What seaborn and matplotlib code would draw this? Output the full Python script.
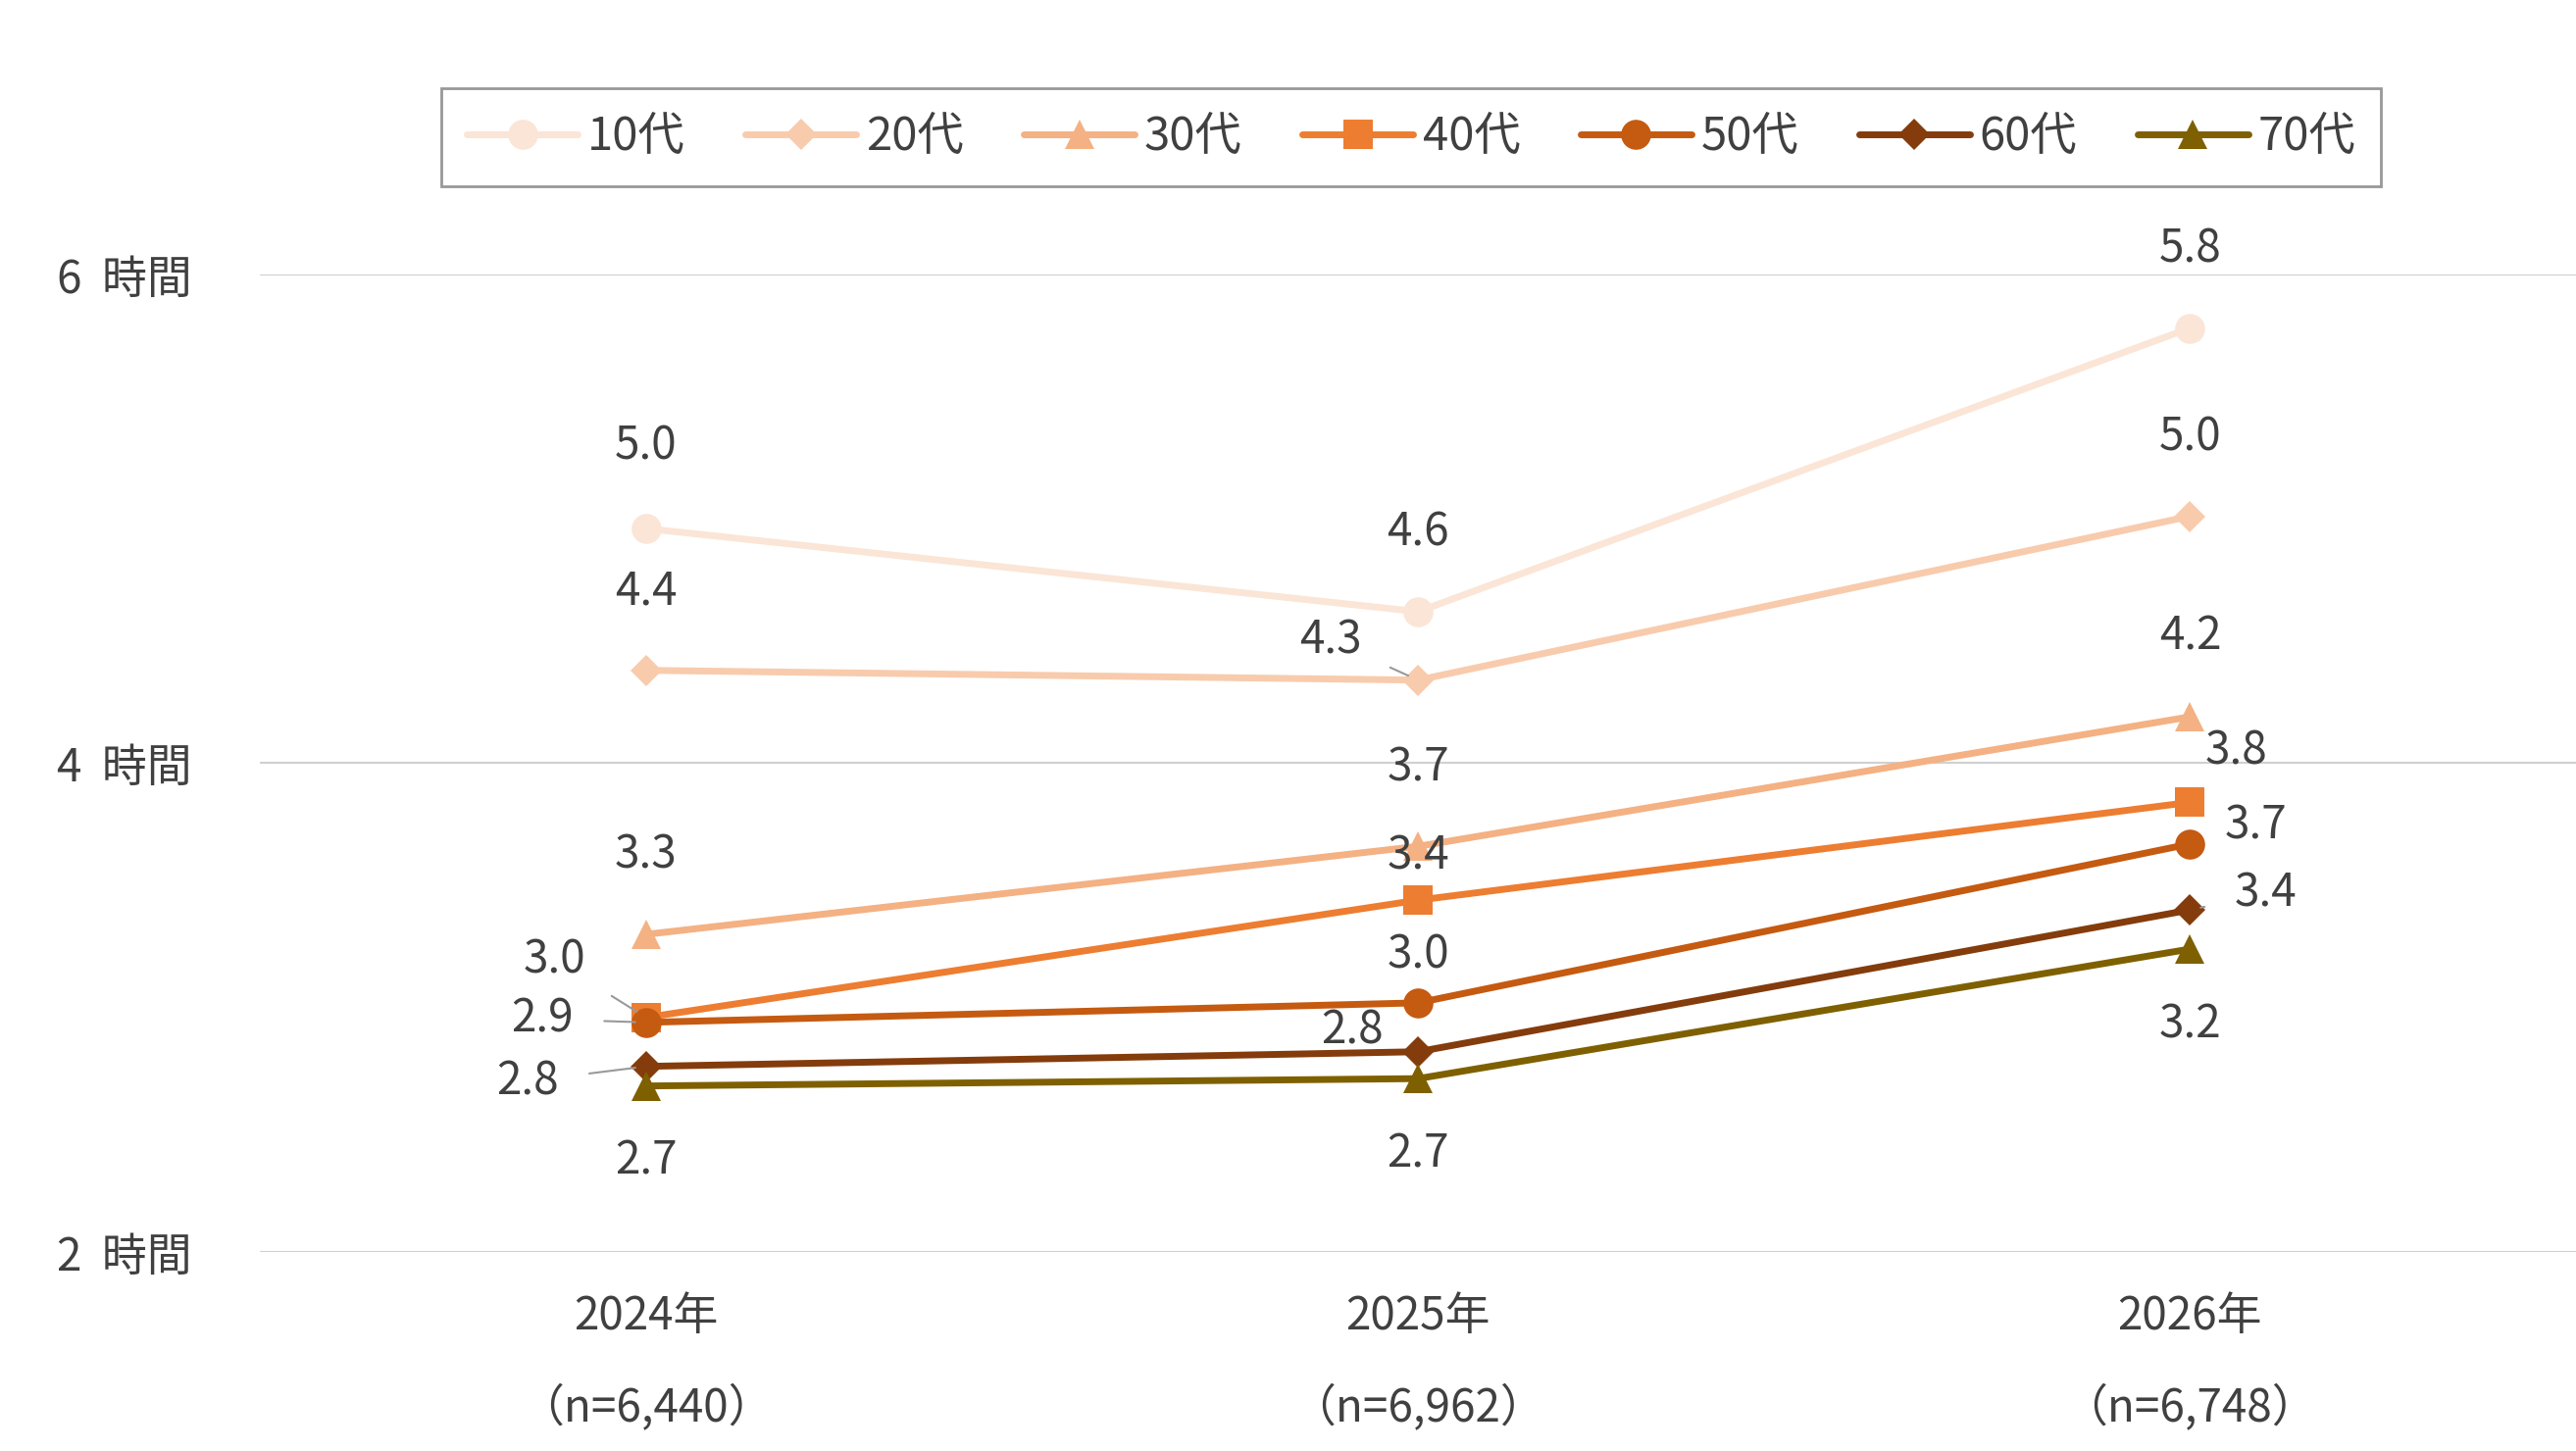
import matplotlib
matplotlib.use("Agg")
import matplotlib.pyplot as plt
import seaborn as sns
import pandas as pd

years = ["2024年\n（n=6,440）", "2025年\n（n=6,962）", "2026年\n（n=6,748）"]
groups = ["10代", "20代", "30代", "40代", "50代", "60代", "70代"]
v10 = [4.96, 4.62, 5.78]
v20 = [4.38, 4.34, 5.01]
v30 = [3.30, 3.66, 4.19]
v40 = [2.96, 3.44, 3.84]
v50 = [2.94, 3.02, 3.67]
v60 = [2.76, 2.82, 3.40]
v70 = [2.68, 2.71, 3.24]
values = [v10, v20, v30, v40, v50, v60, v70]

colors = ["#FBE5D6", "#F8CBAD", "#F4B183", "#ED7D31", "#C55A11", "#843C0C", "#7F6000"]
markers = ["o", "D", "^", "s", "o", "D", "^"]

# label offsets in reference display px (dx, dy up), leader flag
offsets = {
    (0, 0): (0, 50, False), (1, 0): (0, 48, False), (2, 0): (0, 48, False),
    (3, 0): (-56, 35, True), (4, 0): (-63, 2, True), (5, 0): (-72, -9, True),
    (6, 0): (0, -46, False),
    (0, 1): (0, 48, False), (1, 1): (-53, 24, True), (2, 1): (0, 48, False),
    (3, 1): (0, 27, False), (4, 1): (0, 29, False), (5, 1): (-40, 13, False),
    (6, 1): (0, -46, False),
    (0, 2): (0, 48, False), (1, 2): (0, 48, False), (2, 2): (0, 49, False),
    (3, 2): (28, 31, False), (4, 2): (40, 11, False), (5, 2): (46, 10, True),
    (6, 2): (0, -46, False),
}

rows = []
for g, vals in zip(groups, values):
    for i, v in enumerate(vals):
        rows.append({"x": i, "group": g, "value": v})
df = pd.DataFrame(rows)

sns.set_style("white")
plt.rcParams["font.family"] = ["Noto Sans CJK JP", "DejaVu Sans"]

fig = plt.figure(figsize=(26.27, 14.8), dpi=100)
ax = fig.add_axes([0.101, 0.137, 0.899, 0.674])

sns.lineplot(data=df, x="x", y="value", hue="group", style="group",
             palette=dict(zip(groups, colors)), markers=dict(zip(groups, markers)),
             dashes=False, linewidth=5, markersize=22, markeredgewidth=0,
             ax=ax, clip_on=False)
for line in ax.lines:
    if line.get_marker() == "D":
        line.set_markersize(16)

k = 1.206
for gi, vals in enumerate(values):
    for i, v in enumerate(vals):
        dx, dy, lead = offsets[(gi, i)]
        ax.annotate(f"{v:.1f}", (i, v), xytext=(dx * k, dy * k), textcoords="offset points",
                    ha="center", va="center", fontsize=33, color="#404040",
                    arrowprops=dict(arrowstyle="-", color="#999999", lw=1.5,
                                    shrinkA=20, shrinkB=8) if lead else None)

ax.set_xlim(-0.5, 2.5)
ax.set_ylim(2, 6)
ax.set_yticks([2, 4, 6])
ax.set_yticklabels(["2  時間", "4  時間", "6  時間"], fontsize=33, color="#404040")
ax.set_xticks([0, 1, 2])
ax.set_xticklabels(years, fontsize=33, color="#404040", linespacing=2.2)
ax.tick_params(axis="y", length=0, pad=50)
ax.tick_params(axis="x", length=0, pad=30)
ax.grid(axis="y", color="#D0D0D0", linewidth=1.5)
ax.set_xlabel("")
ax.set_ylabel("")
for s in ax.spines.values():
    s.set_visible(False)

handles, labels = ax.get_legend_handles_labels()
for h in handles:
    if h.get_marker() == "D":
        h.set_markersize(16)
leg = ax.legend(handles, labels, ncol=7, loc="center", bbox_to_anchor=(0.497, 1.14),
                fontsize=34, frameon=True, fancybox=False, edgecolor="#7F7F7F",
                handlelength=2.4, columnspacing=1.3, handletextpad=0.2, borderpad=0.55)
leg.get_frame().set_linewidth(2)
for t in leg.get_texts():
    t.set_color("#404040")

fig.savefig("out.png", dpi=100)
